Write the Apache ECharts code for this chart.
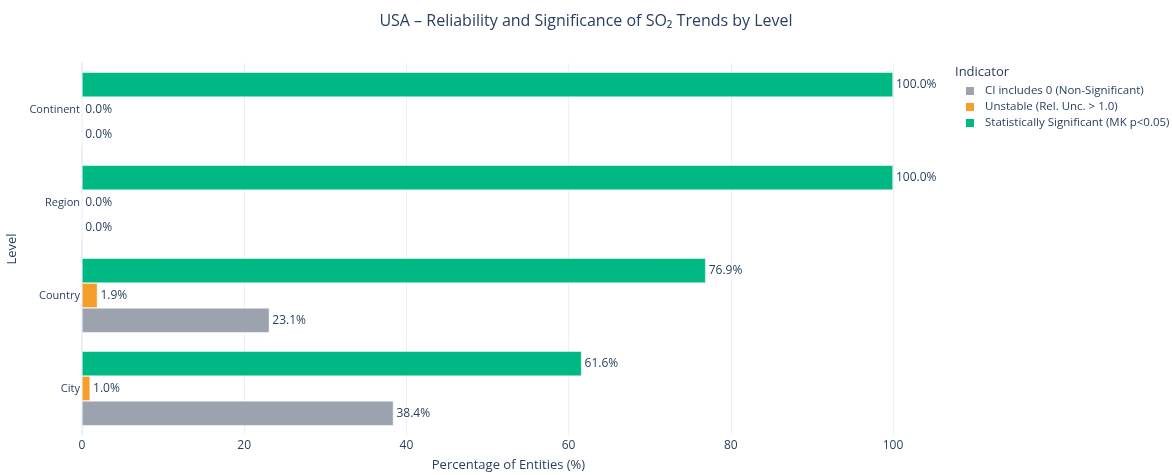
<!DOCTYPE html>
<html>
<head>
<meta charset="utf-8">
<script src="https://cdn.jsdelivr.net/npm/echarts@6/dist/echarts.min.js"></script>
<style>html,body{margin:0;padding:0;background:#fff}#chart{width:1172px;height:475px}</style>
</head>
<body>
<div id="chart"></div>
<script>
const levels = ['City', 'Country', 'Region', 'Continent'];
const seriesNames = ['CI includes 0 (Non-Significant)', 'Unstable (Rel. Unc. > 1.0)', 'Statistically Significant (MK p<0.05)'];
const ciIncludesZero = [38.4, 23.1, 0.0, 0.0];
const unstable = [1.0, 1.9, 0.0, 0.0];
const significant = [61.6, 76.9, 100.0, 100.0];
const colors = ['#9CA3AF', '#F59E2A', '#00B884'];

const font = '"Open Sans", "Noto Sans", sans-serif';
const textColor = '#2a3f5f';
const data = [ciIncludesZero, unstable, significant];

// ECharts places horizontal grouped bars top-down, so add series in reverse
const order = [2, 1, 0];

const chart = echarts.init(document.getElementById('chart'));
chart.setOption({
  animation: false,
  textStyle: { fontFamily: font },
  title: [
    { text: 'USA – Reliability and Significance of SO₂ Trends by Level', left: 'center', top: 8,
      padding: [5, 0, 5, 10],
      textStyle: { fontFamily: font, fontSize: 16, fontWeight: 'normal', color: textColor } },
    { text: 'Indicator', left: 955, top: 66, padding: 0,
      textStyle: { fontFamily: font, fontSize: 13, fontWeight: 'normal', color: textColor } }
  ],
  legend: {
    orient: 'vertical', left: 964, top: 85, itemGap: 4, padding: 0,
    icon: 'rect', itemWidth: 10, itemHeight: 10,
    textStyle: { fontFamily: font, fontSize: 11.5, color: textColor, padding: [0, 0, 0, 5] },
    data: seriesNames
  },
  grid: { left: 82, right: 279, top: 63, bottom: 40, containLabel: false, outerBoundsMode: 'none' },
  xAxis: {
    type: 'value', min: 0, max: 100, interval: 20,
    name: 'Percentage of Entities (%)', nameLocation: 'middle', nameGap: 24,
    nameTextStyle: { fontFamily: font, fontSize: 13, color: textColor, padding: [0, 0, 0, 42] },
    axisLine: { show: false }, axisTick: { show: false },
    axisLabel: { fontFamily: font, fontSize: 12, color: textColor, margin: 5 },
    splitLine: { show: true, lineStyle: { color: '#EBF0F8', width: 1 } }
  },
  yAxis: {
    type: 'category', data: levels,
    name: 'Level', nameLocation: 'middle', nameGap: 63,
    nameTextStyle: { fontFamily: font, fontSize: 13, color: textColor },
    axisLine: { show: true, lineStyle: { color: '#EBF0F8', width: 2 } },
    axisTick: { show: false },
    axisLabel: { fontFamily: font, fontSize: 11, color: textColor, margin: 2 },
    splitLine: { show: false }
  },
  series: order.map(i => ({
    name: seriesNames[i], type: 'bar', data: data[i],
    barGap: '0%', barCategoryGap: '20%',
    itemStyle: { color: colors[i], borderColor: '#ffffff', borderWidth: 0.5 },
    label: { show: true, position: 'right', distance: 3,
      fontFamily: font, fontSize: 12, color: textColor,
      formatter: p => p.value.toFixed(1) + '%' }
  }))
});
</script>
</body>
</html>
